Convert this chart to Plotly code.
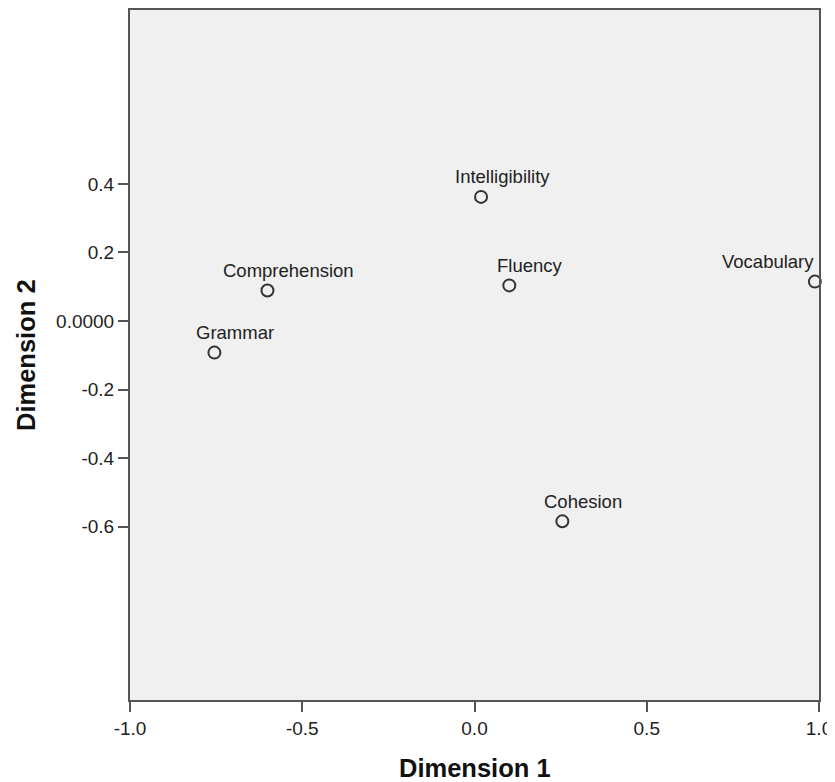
import plotly.graph_objects as go

# Data
names = ["Intelligibility", "Fluency", "Vocabulary", "Comprehension", "Grammar", "Cohesion"]
dim1 = [0.019, 0.101, 0.988, -0.601, -0.755, 0.255]
dim2 = [0.362, 0.104, 0.115, 0.089, -0.092, -0.584]

x_tickvals = [-1.0, -0.5, 0.0, 0.5, 1.0]
x_ticktext = ["-1.0", "-0.5", "0.0", "0.5", "1.0"]
y_tickvals = [0.4, 0.2, 0.0, -0.2, -0.4, -0.6]
y_ticktext = ["0.4", "0.2", "0.0000", "-0.2", "-0.4", "-0.6"]

# label pixel offsets (style)
label_xshift = [21, 21, -47, 21, 21, 21]
label_yshift = 20

FONT = "Liberation Sans, Arial, sans-serif"
AX = "#555555"

fig = go.Figure()
fig.add_trace(go.Scatter(
    x=dim1, y=dim2, mode="markers",
    marker=dict(size=12, color="rgba(0,0,0,0)", line=dict(color="#333333", width=2)),
    hoverinfo="text", text=names, showlegend=False, cliponaxis=False,
))

for n, xv, yv, xs in zip(names, dim1, dim2, label_xshift):
    fig.add_annotation(x=xv, y=yv, text=n, showarrow=False, xshift=xs, yshift=label_yshift,
                       font=dict(family=FONT, size=18.5, color="#222222"),
                       xanchor="center", yanchor="middle")

axis_common = dict(showline=True, linecolor=AX, linewidth=2, mirror=True,
                   ticks="outside", ticklen=10, tickwidth=2, tickcolor=AX,
                   showgrid=False, zeroline=False,
                   tickfont=dict(family=FONT, size=19, color="#222222"))

fig.update_xaxes(range=[-1.0, 1.0], tickvals=x_tickvals, ticktext=x_ticktext, **axis_common)
fig.update_yaxes(range=[-1.105, 0.907], tickvals=y_tickvals, ticktext=y_ticktext, **axis_common)

fig.add_annotation(xref="paper", yref="paper", x=0.5, y=0, yshift=-68, text="<b>Dimension 1</b>",
                   showarrow=False, xanchor="center", yanchor="middle",
                   font=dict(family=FONT, size=25.5, color="#111111"))
fig.add_annotation(xref="paper", yref="paper", x=0, y=0.5, xshift=-104, yshift=0, text="<b>Dimension 2</b>",
                   showarrow=False, xanchor="center", yanchor="middle", textangle=-90,
                   font=dict(family=FONT, size=25.5, color="#111111"))

# page body has an 8px margin; compensate so plot area sits at x 130-819, y 7-699
fig.update_layout(width=827, height=774, margin=dict(l=122, r=16, t=0, b=82),
                  plot_bgcolor="#F0F0F0", paper_bgcolor="white")

fig.write_html("out.html")
